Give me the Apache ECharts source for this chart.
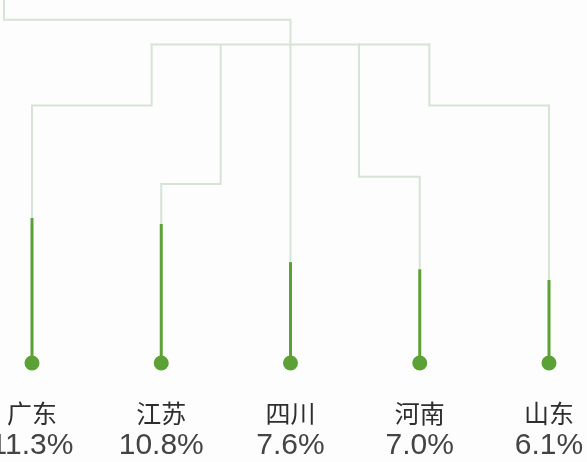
<!DOCTYPE html>
<html>
<head>
<meta charset="utf-8">
<script src="https://cdn.jsdelivr.net/npm/echarts@6/dist/echarts.min.js"></script>
<style>
html,body{margin:0;padding:0;background:#fdfdfd;}
#chart{width:587px;height:462px;}
</style>
</head>
<body>
<div id="chart"></div>
<script>
// ---- data ----
const provinces = ['广东', '江苏', '四川', '河南', '山东'];
const shares = [11.3, 10.8, 7.6, 7.0, 6.1];
const shareLabels = ['11.3%', '10.8%', '7.6%', '7.0%', '6.1%'];
// connector paths above each stem, in axis units [category index, level]
const branchPaths = [
  [[0, 20.74], [0.926, 20.74], [0.926, 25.87]],
  [[1, 14.15], [1.46, 14.15], [1.46, 25.87]],
  [[2, 27.95], [-0.217, 27.95], [-0.217, 29.6]],
  [[3, 14.77], [2.53, 14.77], [2.53, 25.87]],
  [[4, 20.74], [3.074, 20.74], [3.074, 25.87]]
];
const trunkPath = [[0.926, 25.87], [3.074, 25.87]];
const dotLevel = -0.87;

const GREEN = '#5ba136';
const GREY = '#d6e4d6';

const chart = echarts.init(document.getElementById('chart'));

const allPaths = branchPaths.map((p, i) => [[i, shares[i]]].concat(p)).concat([trunkPath]);

chart.setOption({
  backgroundColor: '#fdfdfd',
  animation: false,
  grid: { left: 32, right: 38, top: 0, bottom: 109.3, containLabel: false, outerBoundsMode: 'none' },
  xAxis: {
    type: 'value', min: 0, max: 4, interval: 1,
    axisLine: { show: false }, axisTick: { show: false }, splitLine: { show: false },
    axisLabel: {
      margin: 45,
      formatter: v => '{n|' + provinces[v] + '}\n{p|' + shareLabels[v] + '}',
      rich: {
        n: { fontFamily: 'Noto Sans CJK SC', fontSize: 25, lineHeight: 32, color: '#2e2e2e', align: 'center' },
        p: { fontFamily: 'Liberation Sans', fontSize: 30, lineHeight: 32, color: '#444444', align: 'center' }
      }
    }
  },
  yAxis: {
    type: 'value', min: 0, max: 29.6,
    show: false
  },
  series: [{
    type: 'custom',
    clip: false,
    silent: true,
    z: 1,
    data: allPaths.map((p, k) => [k]),
    renderItem: (params, api) => {
      const path = allPaths[params.dataIndex];
      return {
        type: 'polyline',
        shape: { points: path.map(pt => api.coord(pt)) },
        style: { stroke: GREY, lineWidth: 2, fill: null, lineJoin: 'miter', lineCap: 'square' }
      };
    }
  }, {
    type: 'custom',
    clip: false,
    silent: true,
    z: 3,
    data: shares.map((v, i) => [i, v]),
    renderItem: (params, api) => {
      const i = api.value(0);
      const top = api.coord([i, api.value(1)]);
      const bot = api.coord([i, dotLevel]);
      return {
        type: 'group',
        children: [
          { type: 'line', shape: { x1: top[0], y1: top[1], x2: bot[0], y2: bot[1] },
            style: { stroke: GREEN, lineWidth: 3 } },
          { type: 'circle', shape: { cx: bot[0], cy: bot[1], r: 7.5 },
            style: { fill: GREEN } }
        ]
      };
    }
  }]
});
</script>
</body>
</html>
